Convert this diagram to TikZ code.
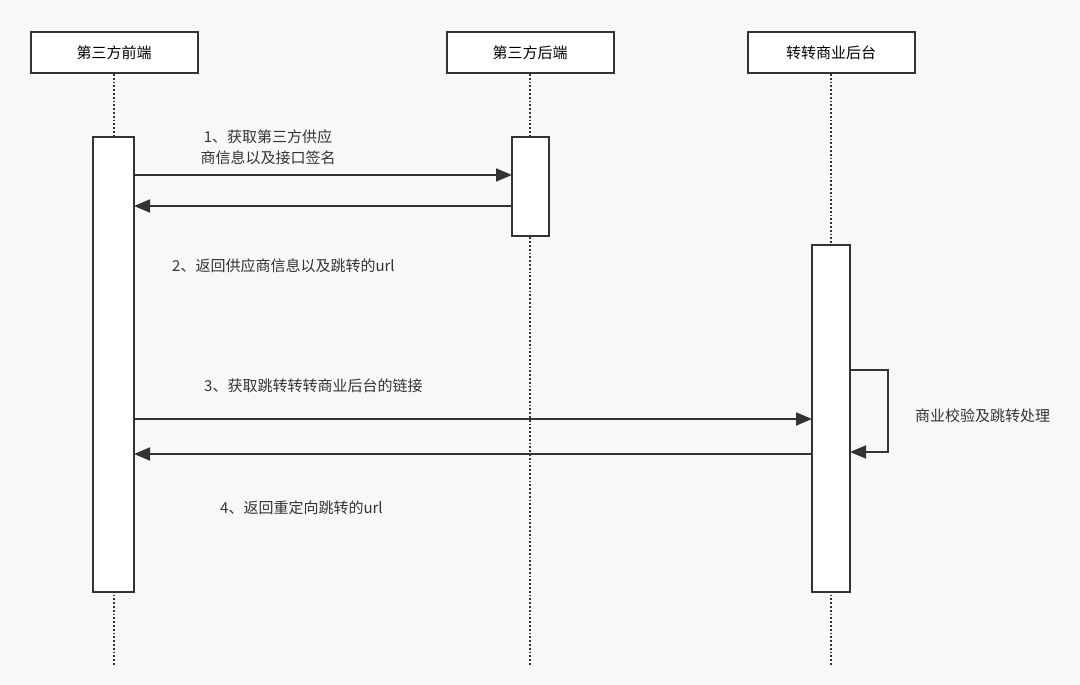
\documentclass[tikz,border=0pt]{standalone}
\usepackage{fontspec}
\setmainfont{Noto Sans CJK SC}
\usetikzlibrary{arrows.meta}
\definecolor{bg}{HTML}{F8F8F8}
\definecolor{ln}{HTML}{333333}
\begin{document}
\begin{tikzpicture}[x=1pt,y=-1pt,
  actor/.style={draw=ln,line width=2pt,fill=white,minimum width=167pt,minimum height=41pt,font=\fontsize{15}{18}\selectfont,inner sep=0},
  act/.style={draw=ln,line width=2pt,fill=white},
  life/.style={draw=ln,line width=1.8pt,dotted},
  msg/.style={draw=ln,line width=1.8pt,-{Triangle[length=16pt,width=13pt]}},
  lbl/.style={font=\fontsize{15}{21}\selectfont,text=ln,inner sep=0,anchor=west}]
\fill[bg] (0,0) rectangle (1080,685);
\useasboundingbox (0,0) rectangle (1080,685);
\coordinate (l1e) at (114,665);
\coordinate (l2e) at (530,665);
\coordinate (l3e) at (831,665);
\node[actor] (a1) at (114,52.5) {第三方前端};
\node[actor] (a2) at (530,52.5) {第三方后端};
\node[actor] (a3) at (831,52.5) {转转商业后台};
\draw[life] (a1.south) -- (l1e);
\draw[life] (a2.south) -- (l2e);
\draw[life] (a3.south) -- (l3e);
\draw[act] (93,137) rectangle (134,592);
\draw[act] (512,137) rectangle (549,236);
\draw[act] (812,245) rectangle (850,592);
\coordinate (p1) at (134,175); \coordinate (q1) at (512,175);
\coordinate (p2) at (512,206); \coordinate (q2) at (134,206);
\coordinate (p3) at (134,419); \coordinate (q3) at (812,419);
\coordinate (p4) at (812,454); \coordinate (q4) at (134,454);
\coordinate (s1) at (850,370); \coordinate (s2) at (850,452);
\draw[msg] (p1) -- (q1);
\draw[msg] (p2) -- (q2);
\draw[msg] (p3) -- (q3);
\draw[msg] (p4) -- (q4);
\draw[msg] (s1) -- (888,370) -- (888,452) -- (s2);
\node[lbl,anchor=center,align=center] (t1) at (268,147) {1、获取第三方供应\\商信息以及接口签名};
\node[lbl] (t2) at (172,266) {2、返回供应商信息以及跳转的url};
\node[lbl] (t3) at (204,386) {3、获取跳转转转商业后台的链接};
\node[lbl] (t4) at (220,508) {4、返回重定向跳转的url};
\node[lbl] (t5) at (915,416) {商业校验及跳转处理};
\end{tikzpicture}
\end{document}
